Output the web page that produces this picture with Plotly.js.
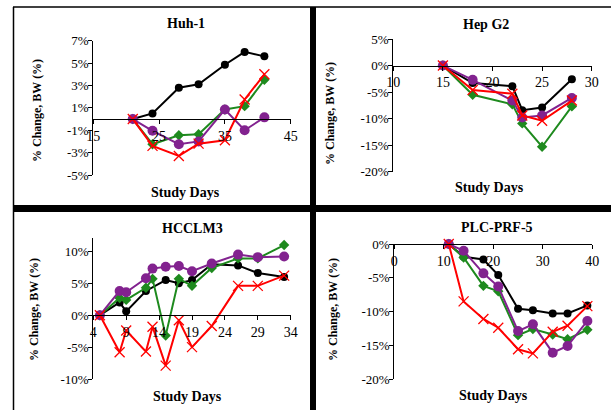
<!DOCTYPE html>
<html><head><meta charset="utf-8">
<script src="https://cdn.plot.ly/plotly-3.0.1.min.js"></script>
<style>html,body{margin:0;padding:0;background:#fff}#chart{width:611px;height:410px}</style>
</head><body><div id="chart"></div>
<script>
// ---- Data (percent change in body weight) ----
const panelTitles = ['Huh-1', 'Hep G2', 'HCCLM3', 'PLC-PRF-5'];
const xTitle = 'Study Days';
const yTitle = '% Change, BW (%)';

const huhDays   = [21, 24, 28, 31, 35, 38, 41];
const huhBlack  = [0, 0.5, 2.8, 3.1, 4.85, 6.0, 5.6];
const huhGreen  = [0, -2.25, -1.45, -1.35, 0.85, 1.15, 3.5];
const huhPurple = [0, -1.05, -2.25, -2.0, 0.85, -1.0, 0.15];
const huhRed    = [0, -2.4, -3.3, -2.2, -1.9, 1.75, 4.0];

const hepDays   = [15, 18, 22, 23, 25, 28];
const hepBlack  = [0, -3.3, -3.9, -8.4, -7.9, -2.6];
const hepGreen  = [0, -5.5, -7.3, -10.9, -15.3, -7.7];
const hepPurple = [0, -2.7, -6.6, -9.8, -9.4, -6.1];
const hepRed    = [0, -4.6, -5.3, -9.4, -10.4, -6.6];

const hccDays   = [5, 8, 9, 12, 13, 15, 17, 19, 22, 26, 29, 33];
const hccBlack  = [0, 2.0, 0.6, 3.8, null, 5.5, 5.0, 5.5, 8.0, 7.8, 6.6, 6.0];
const hccGreen  = [0, 2.7, 2.4, 4.3, 5.7, -3.2, 5.7, 4.6, 7.4, 8.9, 8.9, 11.0];
const hccPurple = [0, 3.8, 3.6, 5.8, 7.3, 7.6, 7.7, 6.9, 8.1, 9.5, 9.1, 9.2];
const hccRed    = [0, -5.8, -2.4, -5.7, -1.8, -7.9, -0.8, -5.0, -1.7, 4.6, 4.6, 6.2];

const plcDays   = [11, 14, 18, 21, 25, 28, 32, 35, 39];
const plcBlack  = [0, -1.9, -2.3, -4.6, -9.6, -9.8, -10.3, -10.3, -9.1];
const plcGreen  = [0, -2.0, -6.2, -7.0, -13.5, -12.6, -13.4, -14.1, -12.7];
const plcPurple = [0, -1.0, -4.35, -6.3, -12.9, -11.9, -16.1, -15.1, -11.4];
const plcRed    = [0, -8.5, -11.1, -12.4, -15.6, -16.2, -13.0, -12.1, -9.2];

// tick labels
const huhYVals = [-5, -3, -1, 1, 3, 5, 7];
const huhYText = ['-5%', '-3%', '-1%', '1%', '3%', '5%', '7%'];
const hepYVals = [-20, -15, -10, -5, 0, 5];
const hepYText = ['-20%', '-15%', '-10%', '-5%', '0%', '5%'];
const hccYVals = [-10, -5, 0, 5, 10];
const hccYText = ['-10%', '-5%', '0%', '5%', '10%'];
const plcYVals = [-20, -15, -10, -5, 0];
const plcYText = ['-20%', '-15%', '-10%', '-5%', '0%'];
const huhXVals = [15, 25, 35, 45];
const hepXVals = [10, 15, 20, 25, 30];
const hccXVals = [4, 9, 14, 19, 24, 29, 34];
const plcXVals = [0, 10, 20, 30, 40];

// ---- Layout helpers ----
const W = 611, H = 410;
const px = v => v / W;
const py = v => 1 - v / H;
const FONT = 'Liberation Serif, Times New Roman, serif';

const colors = {black: '#000000', green: '#1e8a1e', purple: '#82228f', red: '#ff0000'};

const panels = [
  {days: huhDays, s: [huhBlack, huhGreen, huhPurple, huhRed], xr: [15, 45], yr: [-5, 7],
   xv: huhXVals, yv: huhYVals, yt: huhYText, box: [93.3, 290.7, 40.7, 175],
   title: [186, 23], xt: [185, 192], yt2: [37, 111]},
  {days: hepDays, s: [hepBlack, hepGreen, hepPurple, hepRed], xr: [10, 30], yr: [-20, 5],
   xv: hepXVals, yv: hepYVals, yt: hepYText, box: [393.3, 591.7, 39, 171.7],
   title: [486, 24], xt: [489, 188], yt2: [330, 114]},
  {days: hccDays, s: [hccBlack, hccGreen, hccPurple, hccRed], xr: [4, 34], yr: [-10, 12.1],
   xv: hccXVals, yv: hccYVals, yt: hccYText, box: [93.3, 290.7, 238, 379],
   title: [192, 228], xt: [187, 396], yt2: [34, 310]},
  {days: plcDays, s: [plcBlack, plcGreen, plcPurple, plcRed], xr: [0, 40], yr: [-20, 0],
   xv: plcXVals, yv: plcYVals, yt: plcYText, box: [394.3, 592.3, 244, 379],
   title: [497, 227], xt: [494, 395], yt2: [333, 310]}
];

const markerStyles = [
  {symbol: 'circle', size: 8, color: colors.black},
  {symbol: 'diamond', size: 8, color: colors.green},
  {symbol: 'circle', size: 10, color: colors.purple},
  {symbol: 'x-thin-open', size: 10, color: colors.red, line: {color: colors.red, width: 1.3}}
];
const lineColors = [colors.black, colors.green, colors.purple, colors.red];

const data = [];
const layout = {
  width: W, height: H, margin: {l: 0, r: 0, t: 0, b: 0},
  paper_bgcolor: '#fff', plot_bgcolor: 'rgba(0,0,0,0)', showlegend: false,
  font: {family: FONT, size: 14, color: '#000'},
  annotations: [], shapes: []
};

panels.forEach((p, i) => {
  const n = i + 1;
  const xa = 'xaxis' + (n === 1 ? '' : n), ya = 'yaxis' + (n === 1 ? '' : n);
  const xref = 'x' + (n === 1 ? '' : n), yref = 'y' + (n === 1 ? '' : n);
  const [x0, x1, yTop, yBot] = p.box;
  const ydom = [py(yBot), py(yTop)];
  const zeroPos = ydom[0] + (0 - p.yr[0]) / (p.yr[1] - p.yr[0]) * (ydom[1] - ydom[0]);
  layout[xa] = {
    domain: [px(x0), px(x1)], range: p.xr, anchor: 'free', position: zeroPos,
    tickvals: p.xv, ticks: 'outside', ticklen: 4, tickcolor: '#000',
    showline: true, linecolor: '#000', linewidth: 1, showgrid: false, zeroline: false,
    tickfont: {family: FONT, size: 14}, fixedrange: true
  };
  layout[ya] = {
    domain: ydom, range: p.yr, anchor: xref,
    tickvals: p.yv, ticktext: p.yt, ticks: 'outside', ticklen: 4, tickcolor: '#000',
    ticklabelstandoff: -3,
    showline: true, linecolor: '#000', linewidth: 1, showgrid: false, zeroline: false,
    tickfont: {family: FONT, size: 13}, fixedrange: true
  };
  p.s.forEach((vals, k) => {
    data.push({
      x: p.days, y: vals, xaxis: xref, yaxis: yref, type: 'scatter', mode: 'lines+markers',
      connectgaps: true, cliponaxis: false,
      line: {color: lineColors[k], width: 2}, marker: markerStyles[k], hoverinfo: 'skip'
    });
  });
  const ann = {xref: 'paper', yref: 'paper', showarrow: false, xanchor: 'center', yanchor: 'middle'};
  layout.annotations.push(
    Object.assign({}, ann, {text: panelTitles[i], x: px(p.title[0]), y: py(p.title[1]),
      font: {family: FONT, size: 14, weight: 'bold'}}),
    Object.assign({}, ann, {text: xTitle, x: px(p.xt[0]), y: py(p.xt[1]),
      font: {family: FONT, size: 14, weight: 'bold'}}),
    Object.assign({}, ann, {text: yTitle, x: px(p.yt2[0]), y: py(p.yt2[1]), textangle: -90,
      font: {family: FONT, size: 12, weight: 'bold'}})
  );
});

// frame lines
layout.shapes.push(
  {type: 'line', xref: 'paper', yref: 'paper', x0: px(13.5), x1: px(13.5), y0: py(7), y1: py(410), line: {color: '#000', width: 1.5}},
  {type: 'line', xref: 'paper', yref: 'paper', x0: px(13), x1: 1, y0: py(7), y1: py(7), line: {color: '#000', width: 1.5}},
  {type: 'rect', xref: 'paper', yref: 'paper', x0: px(310), x1: px(316), y0: py(7), y1: 0, fillcolor: '#000', line: {width: 0}},
  {type: 'rect', xref: 'paper', yref: 'paper', x0: px(13), x1: 1, y0: py(205), y1: py(212), fillcolor: '#000', line: {width: 0}}
);

Plotly.newPlot('chart', data, layout, {staticPlot: true, displayModeBar: false});
</script>
</body></html>
